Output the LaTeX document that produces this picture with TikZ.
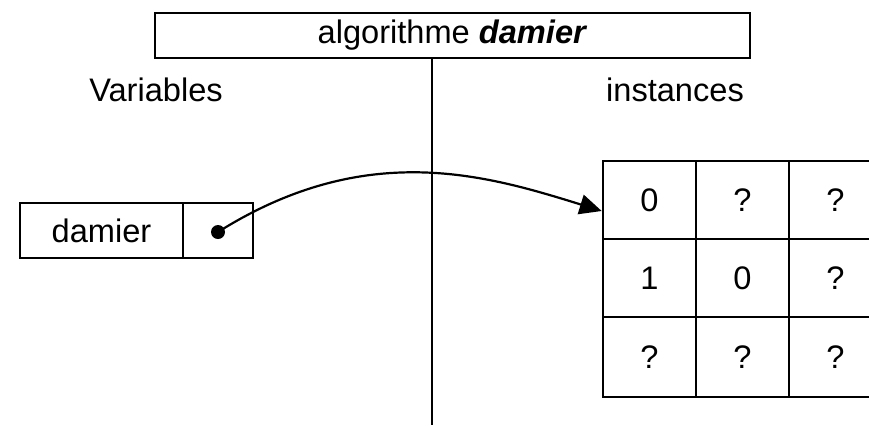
\documentclass[tikz,border=0pt]{standalone}
\usepackage{fontspec}
\setmainfont{Liberation Sans}
\usetikzlibrary{arrows.meta,calc}
\begin{document}
\begin{tikzpicture}[x=0.5pt,y=-0.5pt,
  lbl/.style={font=\fontsize{16.3}{19}\selectfont},
  cellbox/.style={draw,line width=1.3pt,inner sep=0pt,font=\fontsize{16.3}{19}\selectfont,
    minimum width=46.5pt,minimum height=39pt},
  ptr/.style={line width=1.1pt,-{Triangle[length=11pt,width=10pt]}}]
\useasboundingbox (0,0) rectangle (869,425);
% title
\node[draw,line width=1.3pt,minimum width=297.5pt,minimum height=22.5pt,inner sep=0pt,lbl]
  (title) at (452.5,35.5) {algorithme \textbf{\textit{damier}}};
\coordinate (vbot) at (432,425);
\draw[line width=1.4pt] (vbot |- title.south) -- (vbot);
% labels
\node[lbl] (vars) at (156,90) {Variables};
\node[lbl] (inst) at (675,90) {instances};
% variable box
\node[cellbox,minimum width=81.5pt,minimum height=27.5pt] (vname) at (101.5,230.5) {damier};
\node[cellbox,minimum width=35pt,minimum height=27.5pt] (vptr) at (218,230.5) {};
% grid
\node[cellbox] (c11) at (649.5,200) {0};
\node[cellbox] (c12) at (742.5,200) {?};
\node[cellbox] (c13) at (835.5,200) {?};
\node[cellbox] (c21) at (649.5,278) {1};
\node[cellbox] (c22) at (742.5,278) {0};
\node[cellbox] (c23) at (835.5,278) {?};
\node[cellbox,minimum height=40pt] (c31) at (649.5,357) {?};
\node[cellbox,minimum height=40pt] (c32) at (742.5,357) {?};
\node[cellbox,minimum height=40pt] (c33) at (835.5,357) {?};
% pointer
\node[circle,fill,inner sep=0pt,minimum size=7pt] (dot) at (218,232) {};
\draw[ptr] (dot.center) .. controls (366,139) and (486,175) .. ($(c11.west)+(0,11)$);
\end{tikzpicture}
\end{document}
